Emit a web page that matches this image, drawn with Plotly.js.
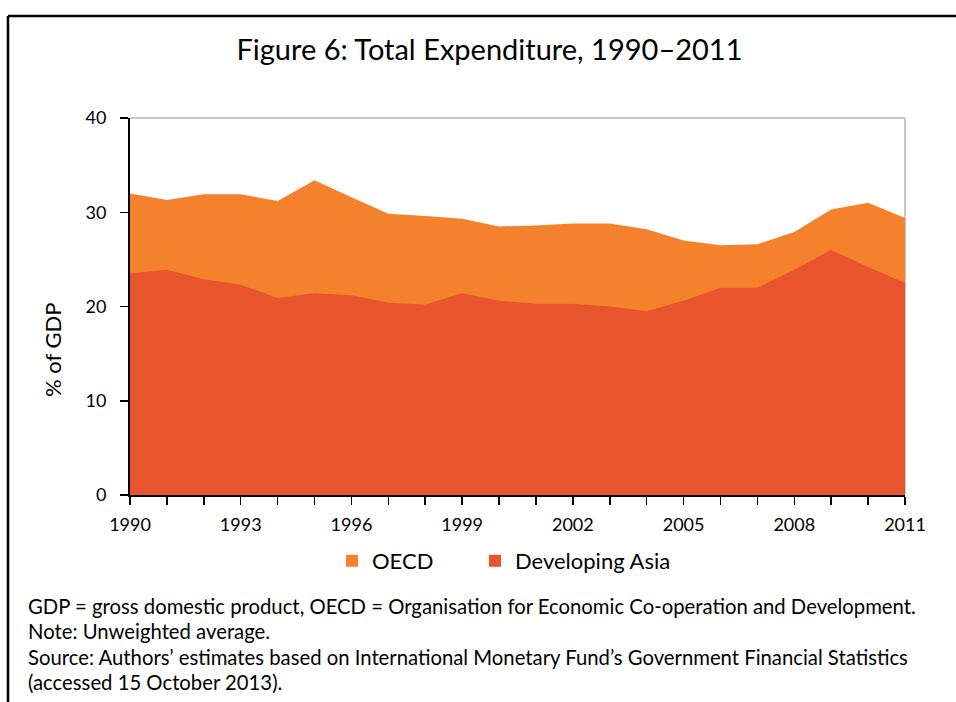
<!DOCTYPE html>
<html>
<head>
<meta charset="utf-8">
<script src="https://cdn.plot.ly/plotly-3.0.1.min.js"></script>
<style>html,body{margin:0;padding:0;background:#fff;}#chart{width:956px;height:702px;}</style>
</head>
<body>
<div id="chart"></div>
<script>
const years = [1990,1991,1992,1993,1994,1995,1996,1997,1998,1999,2000,2001,2002,2003,2004,2005,2006,2007,2008,2009,2010,2011];
const oecd = [32.0,31.3,31.9,31.9,31.2,33.4,31.6,29.85,29.6,29.3,28.5,28.6,28.8,28.8,28.2,27.0,26.5,26.6,27.9,30.3,31.0,29.4];
const devAsia = [23.5,23.9,22.9,22.3,20.9,21.4,21.2,20.4,20.2,21.4,20.6,20.3,20.3,20.0,19.5,20.6,22.0,22.0,23.9,26.0,24.2,22.5];
const xTicks = [1990,1993,1996,1999,2002,2005,2008,2011];
const seriesNames = ['OECD','Developing Asia'];
const colors = ['#F4812B','#E8542C'];

const FONT = 'Lato, "Open Sans", sans-serif';
const traces = [
  {x: years, y: oecd, type:'scatter', mode:'none', fill:'tozeroy', fillcolor: colors[0], showlegend:false, hoverinfo:'x+y'},
  {x: years, y: devAsia, type:'scatter', mode:'none', fill:'tozeroy', fillcolor: colors[1], showlegend:false, hoverinfo:'x+y'},
  {x:[null], y:[null], type:'scatter', mode:'markers', name: seriesNames[0], legend:'legend', marker:{symbol:'square', size:13, color:colors[0]}},
  {x:[null], y:[null], type:'scatter', mode:'markers', name: seriesNames[1], legend:'legend2', marker:{symbol:'square', size:13, color:colors[1]}}
];

const W = 775, H = 377; // plot area in px
const px = v => (v - 130) / W;
const py = v => (495 - v) / H;

const legendBase = {orientation:'h', xanchor:'left', yanchor:'top', y:py(540), font:{size:22, family:FONT}, itemsizing:'constant', bgcolor:'rgba(0,0,0,0)'};

const layout = {
  width: 956, height: 702,
  margin: {l:130, r:51, t:118, b:207, pad:0},
  paper_bgcolor:'#fff', plot_bgcolor:'#fff',
  font: {family: FONT, color:'#000', size:18},
  title: {text:'Figure 6: Total Expenditure, 1990–2011', font:{family:FONT, size:29, color:'#000'}, x:0.512, xanchor:'center', y:0.929, yanchor:'middle'},
  xaxis: {
    range:[1990,2011], tickvals:xTicks, ticktext:xTicks.map(String),
    ticks:'outside', ticklen:8, tickwidth:1.5, tickcolor:'#000', ticklabelstandoff:4,
    minor:{dtick:1, tick0:1990, ticks:'outside', ticklen:8, tickwidth:1.5, tickcolor:'#000', showgrid:false},
    showline:true, linecolor:'#000', linewidth:2, showgrid:false, zeroline:false,
    tickfont:{size:18, family:FONT}, fixedrange:true
  },
  yaxis: {
    range:[0,40], dtick:10, ticks:'outside', ticklen:8, tickwidth:1.5, tickcolor:'#000', ticklabelstandoff:10,
    showline:true, linecolor:'#000', linewidth:2, showgrid:false, zeroline:false,
    tickfont:{size:18, family:FONT}, fixedrange:true
  },
  showlegend:true,
  legend: Object.assign({}, legendBase, {x:px(332)}),
  legend2: Object.assign({}, legendBase, {x:px(475)}),
  shapes:[
    {type:'line', xref:'paper', yref:'paper', x0:0, x1:1, y0:1, y1:1, line:{color:'#c8c8c8', width:2}, layer:'below'},
    {type:'line', xref:'paper', yref:'paper', x0:1, x1:1, y0:0, y1:1, line:{color:'#c8c8c8', width:2}, layer:'below'},
    {type:'line', xref:'paper', yref:'paper', x0:px(8), x1:px(970), y0:py(16), y1:py(16), line:{color:'#000', width:2.5}},
    {type:'line', xref:'paper', yref:'paper', x0:px(8), x1:px(8), y0:py(16), y1:py(710), line:{color:'#000', width:2.5}}
  ],
  annotations:[
    {text:'% of GDP', xref:'paper', yref:'paper', x:px(52), y:py(350), textangle:-90, showarrow:false, font:{size:22, family:FONT}, xanchor:'center', yanchor:'middle'},
    {text:'GDP = gross domestic product, OECD = Organisation for Economic Co-operation and Development.', xref:'paper', yref:'paper', x:px(26), y:py(606), xanchor:'left', yanchor:'middle', showarrow:false, font:{size:20.3, family:FONT}},
    {text:'Note: Unweighted average.', xref:'paper', yref:'paper', x:px(26), y:py(631), xanchor:'left', yanchor:'middle', showarrow:false, font:{size:20.3, family:FONT}},
    {text:'Source: Authors’ estimates based on International Monetary Fund’s Government Financial Statistics', xref:'paper', yref:'paper', x:px(26), y:py(657), xanchor:'left', yanchor:'middle', showarrow:false, font:{size:20.3, family:FONT}},
    {text:'(accessed 15 October 2013).', xref:'paper', yref:'paper', x:px(26), y:py(682), xanchor:'left', yanchor:'middle', showarrow:false, font:{size:20.3, family:FONT}}
  ]
};

Plotly.newPlot('chart', traces, layout, {displayModeBar:false, staticPlot:true});
</script>
</body>
</html>
